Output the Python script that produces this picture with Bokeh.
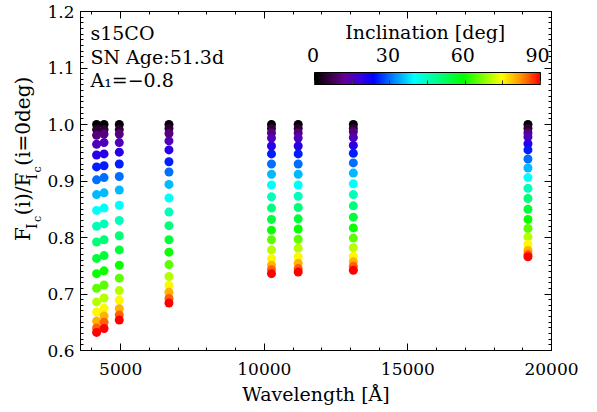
import numpy as np
from bokeh.plotting import figure
from bokeh.layouts import row
from bokeh.models import (ColumnDataSource, LinearColorMapper, ColorBar, FixedTicker,
                          LinearAxis, Label, Range1d, PrintfTickFormatter,
                          CustomJSTickFormatter)
from bokeh.transform import linear_cmap
from bokeh.embed import file_html
from bokeh.resources import INLINE

# ---------------- data ----------------
wavelengths = [4160, 4420, 4950, 6680, 10250, 11180, 13100, 19180]
inclinations = [0, 5, 10, 15, 20, 25, 30, 35, 40, 45, 50, 55, 60, 65, 70, 75, 80, 85, 90]

ratio_4160 = [1.000, 0.991, 0.981, 0.965, 0.946, 0.925, 0.902, 0.876, 0.848, 0.820,
              0.792, 0.763, 0.736, 0.710, 0.686, 0.668, 0.652, 0.640, 0.632]
ratio_4420 = [1.000, 0.991, 0.983, 0.968, 0.948, 0.927, 0.906, 0.879, 0.852, 0.824,
              0.796, 0.768, 0.741, 0.716, 0.693, 0.675, 0.661, 0.650, 0.639]
ratio_4950 = [1.000, 0.991, 0.983, 0.968, 0.951, 0.930, 0.908, 0.884, 0.857, 0.830,
              0.803, 0.778, 0.751, 0.728, 0.706, 0.689, 0.674, 0.663, 0.654]
ratio_6680 = [1.000, 0.993, 0.984, 0.971, 0.955, 0.934, 0.916, 0.894, 0.870, 0.845,
              0.821, 0.796, 0.774, 0.752, 0.731, 0.715, 0.703, 0.692, 0.684]
ratio_10250 = [1.000, 0.993, 0.985, 0.976, 0.962, 0.948, 0.930, 0.912, 0.893, 0.872,
               0.852, 0.832, 0.813, 0.796, 0.778, 0.763, 0.751, 0.743, 0.736]
ratio_11180 = [1.000, 0.993, 0.985, 0.976, 0.962, 0.948, 0.930, 0.912, 0.893, 0.873,
               0.853, 0.833, 0.815, 0.797, 0.781, 0.766, 0.754, 0.745, 0.739]
ratio_13100 = [1.000, 0.993, 0.987, 0.977, 0.963, 0.949, 0.932, 0.914, 0.895, 0.876,
               0.856, 0.836, 0.817, 0.799, 0.782, 0.767, 0.757, 0.749, 0.742]
ratio_19180 = [1.000, 0.993, 0.985, 0.978, 0.966, 0.955, 0.939, 0.923, 0.906, 0.887,
               0.869, 0.850, 0.832, 0.816, 0.801, 0.788, 0.777, 0.770, 0.766]

x_major_ticks = [5000, 10000, 15000, 20000]
y_major_ticks = [0.6, 0.7, 0.8, 0.9, 1.0, 1.1, 1.2]
cbar_label_ticks = [0, 30, 60, 90]
info_lines = ["s15CO", "SN Age:51.3d", "A\u2081=\u22120.8"]
cbar_title = "Inclination [deg]"
x_title = "Wavelength [\u00c5]"
# y title  F_{I_c}(i)/F_{I_c}(i=0deg) as (text, level) pieces: 0 main, 1 sub, 2 sub-sub
y_title_pieces = [("F", 0), ("I", 1), ("c", 2), ("(i)/F", 0), ("I", 1), ("c", 2),
                  ("(i=0deg)", 0)]

# ---------------- table ----------------
columns = [ratio_4160, ratio_4420, ratio_4950, ratio_6680,
           ratio_10250, ratio_11180, ratio_13100, ratio_19180]
xs, ys, inc = [], [], []
for w, col in zip(wavelengths, columns):
    for i, r in zip(inclinations, col):
        xs.append(w); ys.append(r); inc.append(i)
order = np.argsort(inc, kind="stable")
src = ColumnDataSource(dict(x=[xs[k] for k in order], y=[ys[k] for k in order],
                            inc=[inc[k] for k in order]))

# ---------------- IDL-like rainbow palette ----------------
anchors = [
    (0.00, (0, 0, 0)), (0.06, (50, 0, 60)), (0.13, (100, 0, 150)),
    (0.20, (60, 0, 220)), (0.26, (0, 0, 255)), (0.34, (0, 120, 255)),
    (0.44, (0, 255, 255)), (0.54, (0, 255, 140)), (0.66, (0, 255, 0)),
    (0.83, (255, 255, 0)), (0.92, (255, 140, 0)), (1.00, (255, 0, 0)),
]
palette = []
for k in range(256):
    t = k / 255
    for (t0, c0), (t1, c1) in zip(anchors[:-1], anchors[1:]):
        if t0 <= t <= t1:
            f = (t - t0) / (t1 - t0)
            c = [int(round(a + (b - a) * f)) for a, b in zip(c0, c1)]
            palette.append("#%02x%02x%02x" % tuple(c))
            break
mapper = LinearColorMapper(palette=palette, low=0, high=90)
blank = CustomJSTickFormatter(code="return ''")

# ---------------- layout ----------------
FONT = "DejaVu Serif"
LW = 44                    # width of the strip holding the y title
W, H = 597 - LW, 410
FR_L, FR_R, FR_T, FR_B = 77, 551, 11, 350   # frame in page pixels
X0, X1, Y0, Y1 = 3600, 20000, 0.6, 1.2

def dx(px):
    return X0 + (px - FR_L) * (X1 - X0) / (FR_R - FR_L)

def dy(py):
    return Y1 - (py - FR_T) * (Y1 - Y0) / (FR_B - FR_T)

p = figure(width=W, height=H, x_range=Range1d(X0, X1), y_range=Range1d(Y0, Y1),
           output_backend="svg", toolbar_location=None,
           min_border_left=FR_L - LW, min_border_right=LW + W - FR_R,
           min_border_top=FR_T, min_border_bottom=H - FR_B)
p.grid.visible = False
p.outline_line_color = "black"
p.outline_line_width = 1
p.background_fill_color = "white"
p.border_fill_color = "white"

p.scatter("x", "y", source=src, size=9, marker="circle", line_color=None,
          fill_color=linear_cmap("inc", palette, 0, 90))

xt = FixedTicker(ticks=x_major_ticks, minor_ticks=list(range(4000, 20001, 1000)))
yt = FixedTicker(ticks=y_major_ticks,
                 minor_ticks=[round(v, 2) for v in np.arange(0.6, 1.2001, 0.01)])

def style_axis(ax, show_labels=True):
    ax.major_tick_in = 7
    ax.major_tick_out = 0
    ax.minor_tick_in = 3
    ax.minor_tick_out = 0
    ax.axis_line_color = "black"
    ax.major_tick_line_color = "black"
    ax.minor_tick_line_color = "black"
    ax.major_label_text_font = FONT
    ax.major_label_text_color = "black"
    ax.major_label_text_font_size = "17px"
    if not show_labels:
        ax.formatter = blank
        ax.major_label_standoff = 0

p.xaxis[0].ticker = xt
p.yaxis[0].ticker = yt
p.yaxis[0].formatter = PrintfTickFormatter(format="%.1f")
style_axis(p.xaxis[0])
style_axis(p.yaxis[0])
p.xaxis[0].major_label_standoff = 12
p.yaxis[0].major_label_standoff = 6
p.xaxis[0].axis_label = x_title
p.xaxis[0].axis_label_text_font = FONT
p.xaxis[0].axis_label_text_font_size = "19px"
p.xaxis[0].axis_label_text_font_style = "normal"
p.xaxis[0].axis_label_text_color = "black"
p.xaxis[0].axis_label_standoff = 5

top = LinearAxis(ticker=xt)
style_axis(top, False)
p.add_layout(top, "above")
right = LinearAxis(ticker=yt)
style_axis(right, False)
p.add_layout(right, "right")

# ---------------- annotations in the frame ----------------
for txt, py in zip(info_lines, [32, 56, 79]):
    p.add_layout(Label(x=dx(87), y=dy(py), text=txt, text_font=FONT,
                       text_font_size="19px", text_align="left", text_baseline="middle",
                       text_color="black"))

# colour bar (page pixels of the bar)
BAR_L, BAR_R, BAR_T, BAR_B = 311, 537, 72, 84
cb = ColorBar(color_mapper=mapper, orientation="horizontal",
              location=(BAR_L - FR_L, FR_B - BAR_B), width=BAR_R - BAR_L,
              height=BAR_B - BAR_T, padding=0,
              ticker=FixedTicker(ticks=[0, 15, 30, 45, 60, 75, 90]),
              formatter=blank, label_standoff=0,
              major_tick_in=4, major_tick_out=0, major_tick_line_color="#333333",
              minor_tick_line_color=None, bar_line_color="black",
              background_fill_alpha=0, border_line_color=None)
p.add_layout(cb)
for v in cbar_label_ticks:
    p.add_layout(Label(x=dx(BAR_L + v / 90 * (BAR_R - BAR_L)), y=dy(54), text=str(v),
                       text_font=FONT, text_font_size="19px", text_align="center",
                       text_baseline="middle", text_color="black"))
p.add_layout(Label(x=dx((BAR_L + BAR_R) / 2), y=dy(31), text=cbar_title, text_font=FONT,
                   text_font_size="19px", text_align="center", text_baseline="middle",
                   text_color="black"))

# ---------------- y title strip (coordinates are page pixels) ----------------
q = figure(width=LW, height=H, x_range=Range1d(0, LW), y_range=Range1d(H, 0),
           output_backend="svg", toolbar_location=None, x_axis_type=None,
           y_axis_type=None, min_border=0)
q.grid.visible = False
q.outline_line_color = None
q.background_fill_color = "white"
q.border_fill_color = "white"

sizes = {0: 20, 1: 14, 2: 11}
xcol = {0: 22, 1: 31, 2: 37}
em = {"F": 0.62, "(": 0.39, ")": 0.39, "i": 0.32, "/": 0.34, "=": 0.84, "0": 0.64,
      "d": 0.64, "e": 0.59, "g": 0.64, "I": 0.47, "c": 0.56}
widths = [sum(em[ch] for ch in t) * sizes[lv] + 2 for t, lv in y_title_pieces]
ypos = (FR_T + FR_B) / 2 + 6 + sum(widths) / 2
for (t, lv), w in zip(y_title_pieces, widths):
    q.add_layout(Label(x=xcol[lv], y=ypos, text=t, text_font=FONT,
                       text_font_size="%dpx" % sizes[lv], angle=np.pi / 2,
                       text_align="left", text_baseline="middle", text_color="black"))
    ypos -= w

layout = row(q, p)
open("out.html", "w").write(file_html(layout, INLINE))
